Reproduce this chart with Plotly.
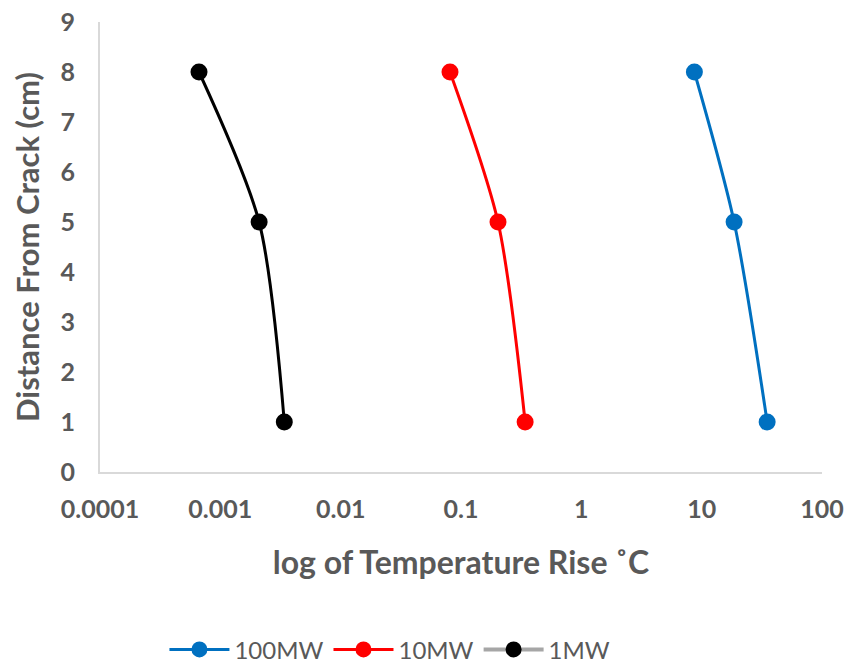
import plotly.graph_objects as go

distance = [8, 5, 1]
temp_100mw = [8.7, 18.6, 35.0]
temp_10mw = [0.081, 0.203, 0.341]
temp_1mw = [0.000665, 0.0021, 0.0034]

x_ticks = [0.0001, 0.001, 0.01, 0.1, 1, 10, 100]
x_ticklabels = ["0.0001", "0.001", "0.01", "0.1", "1", "10", "100"]
y_ticks = list(range(0, 10))

FONT = "Lato, 'Open Sans', sans-serif"
GRAY = "#595959"

fig = go.Figure()

series = [
    ("100MW", temp_100mw, "#0070C0"),
    ("10MW", temp_10mw, "#FF0000"),
    ("1MW", temp_1mw, "#000000"),
]
for name, xs, c in series:
    fig.add_trace(go.Scatter(
        x=xs, y=distance, name=name, mode="lines+markers",
        line=dict(color=c, width=3, shape="spline", smoothing=0.8),
        marker=dict(color=c, size=17),
        showlegend=(name != "1MW"), legendgroup=name,
    ))

# legend entry for 1MW (gray line, black marker as in reference)
fig.add_trace(go.Scatter(
    x=[None], y=[None], name="1MW", mode="lines+markers",
    line=dict(color="#A6A6A6", width=4), marker=dict(color="#000000", size=17),
    legendgroup="1MW", showlegend=True,
))

# page body has an 8px margin, so the figure is sized to fit the window
fig.update_layout(
    width=845, height=659,
    margin=dict(l=92, r=31, t=14, b=195, autoexpand=False),
    paper_bgcolor="white", plot_bgcolor="white",
    font=dict(family=FONT, color=GRAY),
    legend=dict(orientation="h", xref="container", yref="container",
                x=0.452, xanchor="center", y=0.026, yanchor="middle",
                font=dict(size=24, color=GRAY), itemwidth=60, tracegroupgap=30),
)
fig.update_xaxes(
    type="log", range=[-4, 2], tickvals=x_ticks, ticktext=x_ticklabels,
    showgrid=False, zeroline=False, showline=True, linecolor="#D9D9D9", linewidth=2,
    tickfont=dict(size=25, color=GRAY, family=FONT, weight="bold"), ticks="",
    ticklabelstandoff=14, automargin=False, ticklabeloverflow="allow",
    title=dict(text="log of Temperature Rise ˚C", font=dict(size=32, color=GRAY, weight="bold"), standoff=30),
)
fig.update_yaxes(
    range=[0, 9], tickvals=y_ticks, showgrid=False, zeroline=False,
    showline=True, linecolor="#D9D9D9", linewidth=2,
    tickfont=dict(size=25, color=GRAY, family=FONT, weight="bold"), ticks="",
    ticklabelstandoff=18, automargin=False, ticklabeloverflow="allow",
    title=dict(text="Distance From Crack (cm)", font=dict(size=31, color=GRAY, weight="bold"), standoff=12),
)

fig.write_html("out.html")
